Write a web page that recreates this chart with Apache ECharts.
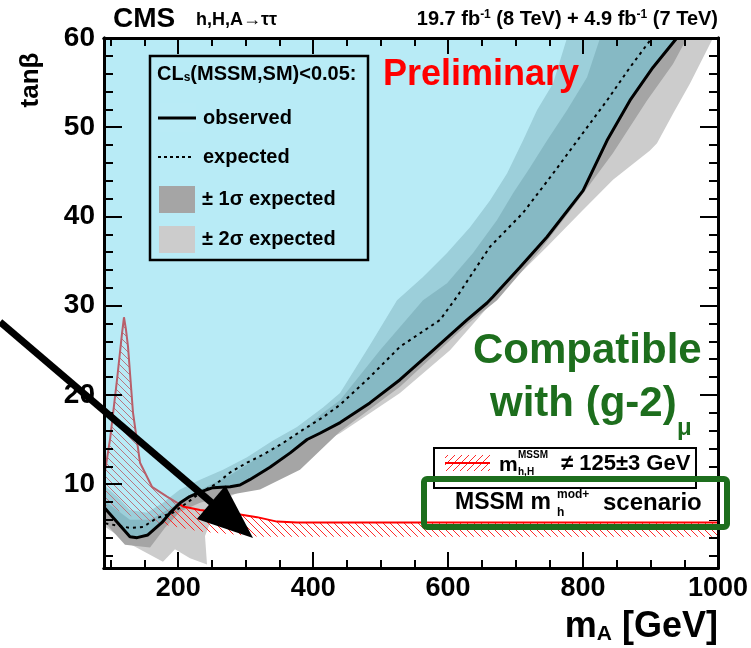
<!DOCTYPE html>
<html><head><meta charset="utf-8">
<script src="https://cdn.jsdelivr.net/npm/echarts@6/dist/echarts.min.js"></script>
<style>html,body{margin:0;padding:0;background:#fff}#c{width:751px;height:648px}</style>
</head><body><div id="c"></div>
<script>
const F = 'Liberation Sans';
const X_MIN = 90, X_MAX = 1000, Y_MIN = 0.6, Y_MAX = 60;
const xMinorTicks = [100,150,200,250,300,350,400,450,500,550,600,650,700,750,800,850,900,950,1000];
const xMajorTicks = [200,400,600,800,1000];
const xLabels = [200,400,600,800,1000];
const yMinorTicks = [2,4,6,8,10,12,14,16,18,20,22,24,26,28,30,32,34,36,38,40,42,44,46,48,50,52,54,56,58,60];
const yMajorTicks = [10,20,30,40,50,60];
const yLabels = [10,20,30,40,50,60];

// observed limit (tanβ vs mA)
const observed = [[90,7.4],[128.5,4.1],[139,4.0],[155,4.3],[176,5.7],[188,6.8],[203,7.9],[217,8.6],[232,9.1],[251.5,9.6],[277,9.7],[291.5,9.9],[306,10.5],[336,11.9],[366,13.5],[391,15.0],[410,15.7],[440,16.9],[484,19.1],[528.7,21.7],[577.6,25.0],[628,28.4],[657.6,30.3],[666.5,31.0],[706.5,34.3],[746.5,37.7],[800,42.9],[835.5,48.5],[869.5,53.0],[903.6,56.7],[939,60]];
// expected limit
const expected = [[92,5.6],[128.5,5.1],[147.8,5.2],[168.5,6.2],[192,6.8],[213,7.9],[232,9.0],[257.5,10.1],[276.7,11.3],[302,12.4],[325.6,13.3],[355,14.6],[385,16.1],[414.6,17.5],[440,18.9],[484,22.0],[528.7,25.4],[588,28.4],[613,31.0],[662,36.6],[711,40.4],[755.4,44.8],[795.4,48.9],[835.5,53.0],[869.5,56.7],[902,60]];
// ±2σ band edges
const band2Inner = [[90,9.9],[109.3,8.6],[128.5,7.1],[153.7,6.8],[177.4,7.9],[202.6,9.4],[232.3,10.5],[266.4,11.6],[302,13.0],[340.5,14.9],[376,16.4],[414.6,18.6],[439.8,20.2],[484.2,25.6],[524.3,30.6],[562.8,33.2],[598.4,35.9],[632.5,38.8],[662.1,41.8],[687.3,44.8],[711,48.5],[731.7,51.9],[755.5,54.9],[776.2,60]];
const band2Outer = [[90,5.3],[128.5,3.3],[177.4,1.3],[195.2,2.7],[217.5,1.7],[242.7,1.0],[239.7,4.2],[254.5,7.1],[276.7,8.6],[306.4,9.7],[346.4,11.3],[390.9,13.8],[439.8,15.7],[528.7,20.2],[602.8,25.0],[676.9,31.4],[706.5,33.6],[746.6,36.6],[795.5,40.4],[844.4,44.1],[899.2,47.4],[909.6,48.2],[933.3,51.5],[958.5,54.9],[992.6,60]];
// ±1σ band edges
const band1Inner = [[90,8.2],[128.5,6.0],[158.2,6.0],[187.8,7.3],[217.5,8.8],[247.1,9.9],[276.7,11.0],[306.4,12.4],[336,13.8],[380.5,15.8],[414.6,18.0],[439.8,19.4],[499,25.0],[562.8,30.6],[598.4,32.5],[636.9,35.9],[672.5,39.6],[696.2,42.6],[721.4,45.5],[746.6,48.5],[776.2,51.9],[805.9,55.6],[825.2,60]];
const band1Outer = [[90,5.8],[121.1,3.2],[158.2,2.9],[180.4,5.1],[202.6,6.9],[232.3,7.9],[276.7,8.8],[321.2,9.4],[380.5,11.6],[439.8,15.9],[528.7,20.9],[628,27.9],[672.5,30.6],[736.2,36.2],[792.5,41.8],[844.4,47.1],[894.8,53.0],[933.3,57.1],[954,60]];
// m_h,H != 125±3 GeV boundary
const mhLine = [[90,10.7],[98.9,15.0],[109.3,21.7],[116.7,26.9],[119.6,28.7],[122.6,27.3],[125.6,25.4],[133,18.0],[143.4,12.4],[161.1,9.7],[183.4,8.6],[207.1,7.5],[232.3,7.1],[266.4,6.8],[291.6,6.6],[316.8,6.3],[346.4,5.8],[376,5.7],[1000,5.7]];
const mhHatchEdge = [[90,7.7],[143.4,6.0],[232.3,4.7],[321,4.1],[1000,4.1]];

const COL_BLUE = 'rgba(97,210,235,0.45)';
const COL_1S = '#a5a5a5', COL_2S = '#cccccc';

function hatch(dir){
  const c = document.createElement('canvas'); c.width = 7; c.height = 7;
  const g = c.getContext('2d'); g.strokeStyle = '#ff2a2a'; g.lineWidth = 1; g.beginPath();
  if (dir > 0) { g.moveTo(-1,8); g.lineTo(8,-1); g.moveTo(-1,1); g.lineTo(1,-1); g.moveTo(6,8); g.lineTo(8,6); }
  else { g.moveTo(-1,-1); g.lineTo(8,8); g.moveTo(6,-1); g.lineTo(8,1); g.moveTo(-1,6); g.lineTo(1,8); }
  g.stroke(); return c;
}

function poly(pts, fill, z){
  return {type:'custom', silent:true, z:z, xAxisIndex:0, yAxisIndex:0, data:[[X_MIN,Y_MIN]],
    renderItem:(params, api)=>{
      const cs = params.coordSys;
      const p = echarts.graphic.clipPointsByRect(pts.map(d=>api.coord(d)), {x:cs.x,y:cs.y,width:cs.width,height:cs.height});
      return {type:'polygon', shape:{points:p}, style:{fill:fill, stroke:null}};
    }};
}
function lineS(data, color, width, type, z){
  return {type:'line', data:data, showSymbol:false, symbol:'none', silent:true, z:z, xAxisIndex:0, yAxisIndex:0,
    lineStyle:{color:color, width:width, type:type, cap:'butt'}};
}
function xAx(grid, pos, ticks, len, labels){
  return {type:'value', gridIndex:grid, position:pos, min:X_MIN, max:X_MAX, z:10,
    axisLine:{show:true,onZero:false,lineStyle:{color:'#000',width:3}},
    axisTick:{show:true,inside:true,length:len,customValues:ticks,lineStyle:{color:'#000',width:2}},
    axisLabel: labels ? {show:true,customValues:labels,formatter:v=>String(v),color:'#000',fontSize:27,fontWeight:'bold',fontFamily:F,margin:7} : {show:false},
    splitLine:{show:false}};
}
function yAx(grid, pos, ticks, len, labels){
  return {type:'value', gridIndex:grid, position:pos, min:Y_MIN, max:Y_MAX, z:10,
    axisLine:{show:true,onZero:false,lineStyle:{color:'#000',width:3}},
    axisTick:{show:true,inside:true,length:len,customValues:ticks,lineStyle:{color:'#000',width:2}},
    axisLabel: labels ? {show:true,customValues:labels,formatter:v=>String(v),color:'#000',fontSize:28,fontWeight:'bold',fontFamily:F,margin:9} : {show:false},
    splitLine:{show:false}};
}
const gridBox = {left:104, right:33, top:38, bottom:80, containLabel:false, outerBoundsMode:'none'};

function txt(x, y, text, size, extra){
  return Object.assign({type:'text', x:x, y:y, z:100, silent:true,
    style:Object.assign({text:text, fontSize:size, fontWeight:'bold', fontFamily:F, fill:'#000', verticalAlign:'middle', align:'left'}, extra||{})});
}
const subR = (s, lh) => ({fontSize:s, fontWeight:'bold', fontFamily:F, fill:'#000', verticalAlign:'bottom', lineHeight:lh});
const supR = (s, lh) => ({fontSize:s, fontWeight:'bold', fontFamily:F, fill:'#000', verticalAlign:'top', lineHeight:lh});

const green = '#1d6e1d';
const tip = [253,538], start = [0,322];
const dx = tip[0]-start[0], dy = tip[1]-start[1], L = Math.hypot(dx,dy), ux = dx/L, uy = dy/L;
const hb = [tip[0]-55*ux, tip[1]-55*uy];

const graphics = [
  txt(113, 19, 'CMS', 28),
  txt(196, 20, 'h,H,A→ττ', 18),
  txt(718, 19, '19.7 fb{sup|-1} (8 TeV) + 4.9 fb{sup|-1} (7 TeV)', 20, {align:'right', rich:{sup:supR(12,4)}}),
  Object.assign(txt(31, 80, 'tanβ', 26, {align:'center'}), {rotation:Math.PI/2}),
  txt(718, 627, 'm{sub|A} [GeV]', 36, {align:'right', rich:{sub:subR(21,4)}}),
  txt(383, 75, 'Preliminary', 36, {fill:'#ff0000'}),
  txt(473, 351, 'Compatible', 42, {fill:green}),
  txt(490, 404, 'with (g-2)', 42, {fill:green}),
  txt(677, 428, 'μ', 24, {fill:green}),
  // legend 1
  {type:'rect', z:100, silent:true, shape:{x:150,y:56,width:218,height:204}, style:{fill:null, stroke:'#000', lineWidth:2.5}},
  txt(157, 74, 'CL{s|s}(MSSM,SM)<0.05:', 20, {rich:{s:subR(12,4)}}),
  {type:'rect', z:100, silent:true, shape:{x:158,y:103,width:38,height:29}, style:{fill:'rgb(185,235,246)'}},
  {type:'line', z:101, silent:true, shape:{x1:158,y1:118,x2:196,y2:118}, style:{stroke:'#000', lineWidth:3}},
  txt(203, 118, 'observed', 20),
  {type:'line', z:101, silent:true, shape:{x1:158,y1:157,x2:194,y2:157}, style:{stroke:'#000', lineWidth:2, lineDash:[3,3]}},
  txt(203, 157, 'expected', 20),
  {type:'rect', z:100, silent:true, shape:{x:159,y:186,width:36,height:27}, style:{fill:COL_1S}},
  txt(202, 199, '± 1σ expected', 20),
  {type:'rect', z:100, silent:true, shape:{x:159,y:226,width:36,height:27}, style:{fill:COL_2S}},
  txt(202, 239, '± 2σ expected', 20),
  // legend 2
  {type:'rect', z:100, silent:true, shape:{x:434,y:448,width:262,height:40}, style:{fill:'#fff', stroke:'#000', lineWidth:2}},
  {type:'rect', z:101, silent:true, shape:{x:445,y:455,width:45,height:16}, style:{fill:{image:hatch(1), repeat:'repeat'}}},
  {type:'line', z:102, silent:true, shape:{x1:445,y1:463,x2:490,y2:463}, style:{stroke:'#ff0000', lineWidth:2}},
  txt(499, 465, 'm', 21),
  txt(518, 455, 'MSSM', 10),
  txt(518, 472, 'h,H', 10),
  txt(561, 464, '≠ 125±3 GeV', 22),
  // green box
  {type:'rect', z:103, silent:true, shape:{x:424,y:479,width:303,height:48,r:3}, style:{fill:null, stroke:green, lineWidth:6}},
  {type:'rect', z:99, silent:true, shape:{x:427,y:482,width:290,height:38}, style:{fill:'#fff'}},
  txt(455, 503, 'MSSM m', 23),
  txt(557, 495, 'mod+', 12),
  txt(557, 513, 'h', 12),
  txt(603, 503, 'scenario', 24),
  // arrow
  {type:'line', z:110, silent:true, shape:{x1:start[0],y1:start[1],x2:hb[0]+5*ux,y2:hb[1]+5*uy}, style:{stroke:'#000', lineWidth:7}},
  {type:'polygon', z:110, silent:true, shape:{points:[tip,[hb[0]-22*uy,hb[1]+22*ux],[hb[0]+22*uy,hb[1]-22*ux]]}, style:{fill:'#000'}}
];

const option = {
  animation:false,
  backgroundColor:'#fff',
  textStyle:{fontFamily:F},
  grid:[Object.assign({}, gridBox), Object.assign({}, gridBox)],
  xAxis:[xAx(0,'bottom',xMinorTicks,8,xLabels), xAx(0,'top',xMinorTicks,8,null), xAx(1,'bottom',xMajorTicks,16,null), xAx(1,'top',xMajorTicks,16,null)],
  yAxis:[yAx(0,'left',yMinorTicks,9,yLabels), yAx(0,'right',yMinorTicks,9,null), yAx(1,'left',yMajorTicks,18,null), yAx(1,'right',yMajorTicks,18,null)],
  series:[
    poly(band2Inner.concat(band2Outer.slice().reverse()), COL_2S, 1),
    poly(band1Inner.concat(band1Outer.slice().reverse()), COL_1S, 1),
    poly(mhLine.concat(mhHatchEdge.slice().reverse()), {image:hatch(-1), repeat:'repeat'}, 2),
    lineS(mhLine, '#ff0000', 2, 'solid', 3),
    poly(observed.concat([[X_MIN,Y_MAX]]), COL_BLUE, 4),
    lineS(expected, '#000', 2, [3,4], 6),
    lineS(observed, '#000', 3, 'solid', 6)
  ],
  graphic:{elements:graphics}
};
const chart = echarts.init(document.getElementById('c'));
chart.setOption(option);
</script></body></html>
